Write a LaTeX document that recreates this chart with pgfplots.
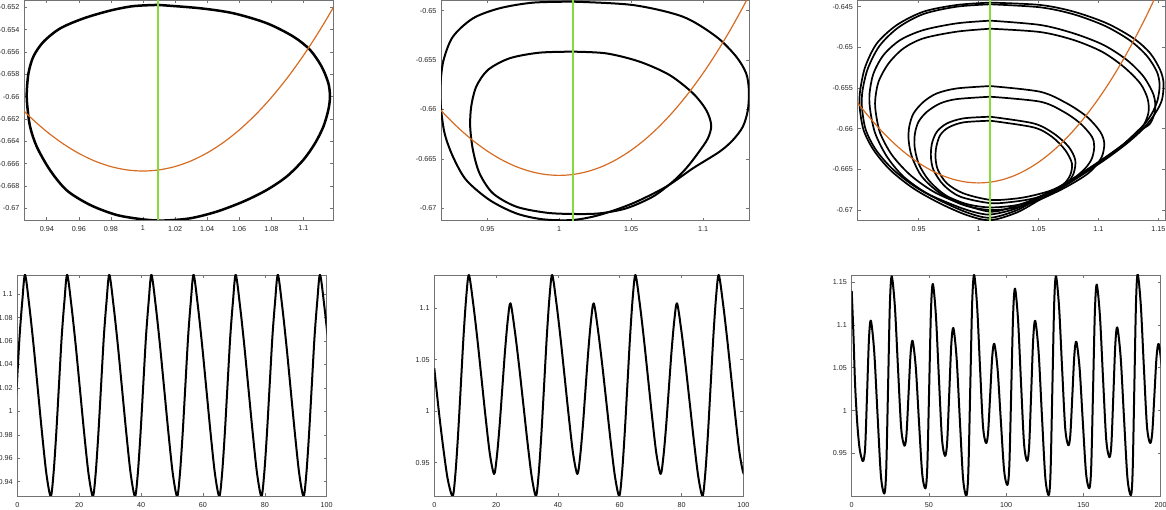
\documentclass[border=0pt]{standalone}
\usepackage{fontspec}
\setmainfont{Liberation Sans}
\usepackage{pgfplots}
\pgfplotsset{compat=1.18}
\definecolor{nullorange}{RGB}{214,108,36}
\definecolor{nullgreen}{RGB}{135,218,60}
\pgfplotsset{
  panel/.style={
    scale only axis, anchor=south west,
    axis line style={draw=black!55, line width=0.9pt},
    tick align=inside, major tick length=3pt,
    tick style={draw=black!55, line width=0.6pt},
    scaled ticks=false,
    tick label style={font=\fontsize{7.2}{8}\selectfont, text=black!85},
    xticklabel style={yshift=-2.5pt},
    yticklabel style={xshift=-1.2pt},
    /pgf/number format/assume math mode=true,
    /pgf/number format/fixed,
    /pgf/number format/precision=3,
  },
  orbit/.style={black, line width=#1, smooth, line join=round},
  nullx/.style={nullorange, line width=1.2pt, smooth},
  nully/.style={nullgreen, line width=1.5pt},
}
\newcommand{\cubicnull}{(0.89,-0.655010) (0.90,-0.657000) (0.91,-0.658810) (0.92,-0.660437) (0.93,-0.661881) (0.94,-0.663139) (0.95,-0.664208) (0.96,-0.665088) (0.97,-0.665776) (0.98,-0.666269) (0.99,-0.666567) (1.00,-0.666667) (1.01,-0.666566) (1.02,-0.666264) (1.03,-0.665758) (1.04,-0.665045) (1.05,-0.664125) (1.06,-0.662995) (1.07,-0.661652) (1.08,-0.660096) (1.09,-0.658324) (1.10,-0.656333) (1.11,-0.654123) (1.12,-0.651691) (1.13,-0.649034) (1.14,-0.646152) (1.15,-0.643042) (1.16,-0.639701) (1.17,-0.636129)}
\begin{document}
\begin{tikzpicture}
\useasboundingbox (0,0) rectangle (1166pt,510pt);

% ---- top row: phase planes ----
\begin{axis}[panel, at={(24pt,290pt)}, width=309pt, height=220pt,
  xmin=0.9258, xmax=1.1185, ymin=-0.67105, ymax=-0.65135,
  xtick={0.94,0.96,0.98,1,1.02,1.04,1.06,1.08,1.1},
  ytick={-0.67,-0.668,-0.666,-0.664,-0.662,-0.66,-0.658,-0.656,-0.654,-0.652}]
\addplot[orbit=2.5pt] coordinates {(1.0094,-0.65179) (1.0356,-0.65209) (1.0564,-0.65254) (1.0772,-0.65343) (1.0938,-0.65463) (1.1042,-0.65582) (1.1114,-0.65731) (1.1156,-0.6588) (1.1166,-0.6600) (1.1156,-0.66119) (1.1125,-0.66269) (1.1073,-0.66418) (1.1000,-0.66567) (1.0896,-0.66716) (1.0772,-0.66836) (1.0626,-0.6694) (1.0460,-0.6703) (1.0294,-0.6709) (1.0127,-0.6711) (1.0003,-0.6710) (0.9836,-0.6706) (0.9670,-0.6697) (0.9525,-0.6684) (0.9421,-0.6666) (0.9338,-0.6645) (0.9296,-0.6627) (0.9279,-0.6609) (0.9275,-0.6597) (0.9286,-0.6579) (0.9317,-0.6564) (0.9379,-0.6551) (0.9483,-0.6539) (0.9629,-0.6530) (0.9795,-0.6523) (0.9940,-0.6519) (1.0094,-0.65179)};
\addplot[nullx] coordinates {\cubicnull};
\addplot[nully] coordinates {(1.0095,-0.70) (1.0095,-0.60)};
\end{axis}

\begin{axis}[panel, at={(441pt,289.3pt)}, width=308.3pt, height=220.7pt,
  xmin=0.9178, xmax=1.1322, ymin=-0.67125, ymax=-0.64892,
  xtick={0.95,1,1.05,1.1}, ytick={-0.67,-0.665,-0.66,-0.655,-0.65}]
\addplot[orbit=2pt] coordinates {(1.0095,-0.64909) (1.0512,-0.64943) (1.0860,-0.65061) (1.1092,-0.65263) (1.1231,-0.65465) (1.1300,-0.65634) (1.1319,-0.65803) (1.1312,-0.66005) (1.1277,-0.66174) (1.1208,-0.66309) (1.1115,-0.66427) (1.0930,-0.66595) (1.0744,-0.66781) (1.0512,-0.66949) (1.0280,-0.67067) (1.0095,-0.67118) (0.9886,-0.67111) (0.9701,-0.67051) (0.9516,-0.66916) (0.9353,-0.66713) (0.9261,-0.66477) (0.9203,-0.66241) (0.9177,-0.65971) (0.9175,-0.65735) (0.9196,-0.65499) (0.9261,-0.65263) (0.9400,-0.65078) (0.9585,-0.64976) (0.9817,-0.64919) (1.0095,-0.64909)};
\addplot[orbit=2pt] coordinates {(1.0095,-0.65415) (1.0327,-0.65432) (1.0559,-0.65516) (1.0767,-0.65651) (1.0930,-0.65836) (1.1022,-0.66005) (1.1057,-0.66157) (1.1034,-0.66292) (1.0964,-0.66444) (1.0883,-0.66595) (1.0790,-0.6673) (1.0651,-0.66882) (1.0466,-0.67) (1.0280,-0.67051) (1.0095,-0.67057) (0.9910,-0.67044) (0.9701,-0.66983) (0.9539,-0.66848) (0.9446,-0.66646) (0.9400,-0.6641) (0.9381,-0.66174) (0.9388,-0.65971) (0.9423,-0.65769) (0.9504,-0.656) (0.9655,-0.65482) (0.9863,-0.65425) (1.0095,-0.65415)};
\addplot[nullx] coordinates {\cubicnull};
\addplot[nully] coordinates {(1.0095,-0.70) (1.0095,-0.60)};
\end{axis}

\begin{axis}[panel, at={(857.7pt,289.3pt)}, width=307.3pt, height=220.7pt,
  xmin=0.8991, xmax=1.1556, ymin=-0.67131, ymax=-0.64418,
  xtick={0.95,1,1.05,1.1,1.15}, ytick={-0.67,-0.665,-0.66,-0.655,-0.65,-0.645}]
\addplot[orbit=1.7pt] coordinates {(1.0097,-0.64450) (1.0514,-0.64479) (1.0793,-0.64561) (1.1071,-0.64705) (1.1294,-0.64890) (1.1433,-0.65074) (1.1516,-0.65279) (1.1544,-0.65443) (1.1530,-0.65648) (1.1474,-0.65812) (1.1377,-0.65996) (1.1238,-0.66181) (1.1071,-0.66365) (1.0904,-0.66529) (1.0709,-0.66713) (1.0514,-0.66870) (1.0320,-0.67030) (1.0097,-0.67125) (0.9903,-0.67063) (0.9680,-0.66920) (0.9457,-0.66735) (0.9263,-0.66509) (0.9124,-0.66263) (0.9040,-0.66017) (0.9007,-0.65730) (0.9012,-0.65525) (0.9054,-0.65238) (0.9151,-0.64951) (0.9318,-0.64725) (0.9541,-0.64561) (0.9819,-0.64479) (1.0097,-0.64450)};
\addplot[orbit=1.7pt] coordinates {(1.0097,-0.64471) (1.0514,-0.64508) (1.0793,-0.64594) (1.1057,-0.64738) (1.1266,-0.64918) (1.1405,-0.65106) (1.1488,-0.65299) (1.1511,-0.65463) (1.1494,-0.65648) (1.1447,-0.65812) (1.1363,-0.65984) (1.1224,-0.66173) (1.1057,-0.66353) (1.0890,-0.66517) (1.0695,-0.66701) (1.0500,-0.66856) (1.0315,-0.67005) (1.0097,-0.67095) (0.9911,-0.67034) (0.9694,-0.66894) (0.9471,-0.66714) (0.9279,-0.66492) (0.9140,-0.66254) (0.9057,-0.66008) (0.9026,-0.65730) (0.9032,-0.65525) (0.9076,-0.65259) (0.9174,-0.64980) (0.9332,-0.64754) (0.9541,-0.64590) (0.9819,-0.64500) (1.0097,-0.64471)};
\addplot[orbit=1.7pt] coordinates {(1.0097,-0.64672) (1.0514,-0.64725) (1.0793,-0.64828) (1.1043,-0.64971) (1.1238,-0.65156) (1.1377,-0.65360) (1.1461,-0.65586) (1.1474,-0.65771) (1.1433,-0.65934) (1.1349,-0.66024) (1.1210,-0.66197) (1.1043,-0.66373) (1.0876,-0.66537) (1.0681,-0.66713) (1.0487,-0.66853) (1.0306,-0.66985) (1.0097,-0.67055) (0.9950,-0.67020) (0.9791,-0.66939) (0.9569,-0.66795) (0.9374,-0.66590) (0.9235,-0.66344) (0.9137,-0.66057) (0.9095,-0.65770) (0.9090,-0.65566) (0.9123,-0.65320) (0.9207,-0.65094) (0.9346,-0.64910) (0.9541,-0.64787) (0.9819,-0.64705) (1.0097,-0.64672)};
\addplot[orbit=1.7pt] coordinates {(1.0097,-0.64771) (1.0514,-0.64812) (1.0793,-0.64910) (1.1029,-0.65053) (1.1210,-0.65238) (1.1349,-0.65443) (1.1410,-0.65627) (1.1419,-0.65791) (1.1383,-0.65943) (1.1321,-0.66037) (1.1196,-0.66209) (1.1029,-0.66386) (1.0862,-0.66550) (1.0668,-0.66722) (1.0473,-0.66861) (1.0292,-0.66960) (1.0097,-0.67020) (0.9847,-0.66918) (0.9625,-0.66775) (0.9430,-0.66570) (0.9277,-0.66324) (0.9179,-0.66057) (0.9143,-0.65812) (0.9137,-0.65648) (0.9165,-0.65422) (0.9249,-0.65197) (0.9374,-0.65012) (0.9541,-0.64889) (0.9819,-0.64807) (1.0097,-0.64771)};
\addplot[orbit=1.7pt] coordinates {(1.0097,-0.65476) (1.0514,-0.65546) (1.0737,-0.65689) (1.0904,-0.65853) (1.1015,-0.66037) (1.1049,-0.66180) (1.1029,-0.66344) (1.0959,-0.66488) (1.0876,-0.66590) (1.0709,-0.66734) (1.0514,-0.66869) (1.0320,-0.66967) (1.0097,-0.67000) (0.9875,-0.66939) (0.9680,-0.66795) (0.9527,-0.66590) (0.9443,-0.66344) (0.9416,-0.66140) (0.9421,-0.65976) (0.9457,-0.65812) (0.9541,-0.65669) (0.9652,-0.65566) (0.9819,-0.65505) (1.0097,-0.65476)};
\addplot[orbit=1.7pt] coordinates {(1.0097,-0.65607) (1.0514,-0.65668) (1.0709,-0.65791) (1.0849,-0.65935) (1.0946,-0.66099) (1.0965,-0.66222) (1.0946,-0.66365) (1.0890,-0.66488) (1.0793,-0.66611) (1.0654,-0.66734) (1.0487,-0.66857) (1.0320,-0.66939) (1.0097,-0.66968) (0.9903,-0.66927) (0.9722,-0.66816) (0.9583,-0.66632) (0.9499,-0.66427) (0.9466,-0.66222) (0.9469,-0.66058) (0.9499,-0.65914) (0.9569,-0.65792) (0.9680,-0.65689) (0.9819,-0.65636) (1.0097,-0.65607)};
\addplot[orbit=1.7pt] coordinates {(1.0097,-0.65853) (1.0459,-0.65935) (1.0626,-0.66058) (1.0751,-0.66222) (1.0807,-0.66386) (1.0793,-0.66550) (1.0737,-0.66673) (1.0626,-0.66775) (1.0459,-0.66857) (1.0292,-0.66898) (1.0097,-0.66915) (0.9847,-0.66836) (0.9708,-0.66693) (0.9624,-0.66509) (0.9602,-0.66345) (0.9611,-0.66180) (0.9652,-0.66037) (0.9736,-0.65935) (0.9875,-0.65873) (1.0097,-0.65853)};
\addplot[orbit=1.7pt] coordinates {(1.0097,-0.65902) (1.0459,-0.65984) (1.0612,-0.66099) (1.0723,-0.66263) (1.0779,-0.66427) (1.0765,-0.66570) (1.0709,-0.66681) (1.0598,-0.66763) (1.0431,-0.66829) (1.0292,-0.66862) (1.0097,-0.66875) (0.9875,-0.66796) (0.9736,-0.66673) (0.9661,-0.66509) (0.9641,-0.66365) (0.9647,-0.66222) (0.9680,-0.66078) (0.9750,-0.65984) (0.9875,-0.65922) (1.0097,-0.65902)};
\addplot[nullx] coordinates {\cubicnull};
\addplot[nully] coordinates {(1.0097,-0.70) (1.0097,-0.60)};
\end{axis}

% ---- bottom row: time series ----
\begin{axis}[panel, at={(17.3pt,14pt)}, width=309.4pt, height=221pt,
  xmin=0, xmax=100, ymin=0.9278, ymax=1.1164,
  xtick={0,20,40,60,80,100}, ytick={0.94,0.96,0.98,1,1.02,1.04,1.06,1.08,1.1}]
\addplot[orbit=2pt] coordinates {(-2.82,0.9275) (-1.93,0.9464) (-1.05,0.9805) (-0.16,1.0221) (0.73,1.0637) (1.61,1.0940)
(2.50,1.1166) (3.88,1.0901) (5.27,1.0561) (6.65,1.0183) (8.03,0.9805) (9.42,0.9464) (10.80,0.9275) (11.69,0.9464) (12.57,0.9805) (13.46,1.0221) (14.35,1.0637) (15.23,1.0940)
(16.12,1.1166) (17.50,1.0901) (18.89,1.0561) (20.27,1.0183) (21.65,0.9805) (23.04,0.9464) (24.42,0.9275) (25.31,0.9464) (26.19,0.9805) (27.08,1.0221) (27.97,1.0637) (28.85,1.0940)
(29.74,1.1166) (31.12,1.0901) (32.51,1.0561) (33.89,1.0183) (35.27,0.9805) (36.66,0.9464) (38.04,0.9275) (38.93,0.9464) (39.81,0.9805) (40.70,1.0221) (41.59,1.0637) (42.47,1.0940)
(43.36,1.1166) (44.74,1.0901) (46.13,1.0561) (47.51,1.0183) (48.89,0.9805) (50.28,0.9464) (51.66,0.9275) (52.55,0.9464) (53.43,0.9805) (54.32,1.0221) (55.21,1.0637) (56.09,1.0940)
(56.98,1.1166) (58.36,1.0901) (59.75,1.0561) (61.13,1.0183) (62.51,0.9805) (63.90,0.9464) (65.28,0.9275) (66.17,0.9464) (67.05,0.9805) (67.94,1.0221) (68.83,1.0637) (69.71,1.0940)
(70.60,1.1166) (71.98,1.0901) (73.37,1.0561) (74.75,1.0183) (76.13,0.9805) (77.52,0.9464) (78.90,0.9275) (79.79,0.9464) (80.67,0.9805) (81.56,1.0221) (82.45,1.0637) (83.33,1.0940)
(84.22,1.1166) (85.60,1.0901) (86.99,1.0561) (88.37,1.0183) (89.75,0.9805) (91.14,0.9464) (92.52,0.9275) (93.41,0.9464) (94.29,0.9805) (95.18,1.0221) (96.07,1.0637) (96.95,1.0940)
(97.84,1.1166) (99.22,1.0901) (100.61,1.0561) (101.99,1.0183)};
\end{axis}

\begin{axis}[panel, at={(434.3pt,14pt)}, width=309pt, height=221pt,
  xmin=0, xmax=100, ymin=0.9176, ymax=1.1324,
  xtick={0,20,40,60,80,100}, ytick={0.95,1,1.05,1.1}]
\addplot[orbit=2pt] coordinates {(0,1.0417) (1.5,0.999) (3.0,0.962) (4.4,0.933) (5.95,0.9176)
(6.83,0.9391) (7.70,0.9777) (8.58,1.0250) (9.45,1.0723) (10.33,1.1109) (11.20,1.1324) (12.56,1.1053) (13.92,1.0705) (15.28,1.0318) (16.63,0.9932) (17.99,0.9583) (19.35,0.9390) (20.23,0.9556) (21.12,0.9855) (22.00,1.0220) (22.88,1.0584) (23.77,1.0883) (24.65,1.1049) (26.03,1.0787) (27.40,1.0450) (28.78,1.0075) (30.15,0.9700) (31.53,0.9363) (32.90,0.9176)
(33.78,0.9391) (34.65,0.9777) (35.53,1.0250) (36.40,1.0723) (37.28,1.1109) (38.15,1.1324) (39.51,1.1053) (40.87,1.0705) (42.23,1.0318) (43.58,0.9932) (44.94,0.9583) (46.30,0.9390) (47.18,0.9556) (48.07,0.9855) (48.95,1.0220) (49.83,1.0584) (50.72,1.0883) (51.60,1.1049) (52.98,1.0787) (54.35,1.0450) (55.73,1.0075) (57.10,0.9700) (58.48,0.9363) (59.85,0.9176)
(60.73,0.9391) (61.60,0.9777) (62.48,1.0250) (63.35,1.0723) (64.23,1.1109) (65.10,1.1324) (66.46,1.1053) (67.82,1.0705) (69.18,1.0318) (70.53,0.9932) (71.89,0.9583) (73.25,0.9390) (74.13,0.9556) (75.02,0.9855) (75.90,1.0220) (76.78,1.0584) (77.67,1.0883) (78.55,1.1049) (79.93,1.0787) (81.30,1.0450) (82.68,1.0075) (84.05,0.9700) (85.43,0.9363) (86.80,0.9176)
(87.68,0.9391) (88.55,0.9777) (89.43,1.0250) (90.30,1.0723) (91.18,1.1109) (92.05,1.1324) (93.41,1.1053) (94.77,1.0705) (96.13,1.0318) (97.48,0.9932) (98.84,0.9583) (100.20,0.9390) (101.08,0.9556)};
\end{axis}

\begin{axis}[panel, at={(851.7pt,14pt)}, width=309pt, height=221pt,
  xmin=0, xmax=200, ymin=0.9001, ymax=1.1585,
  xtick={0,50,100,150,200}, ytick={0.95,1,1.05,1.1,1.15}]
\addplot[orbit=2pt] coordinates {(0,1.140) (1.1,1.090) (2.2,1.030) (3.6,0.985) (5.0,0.957) (6.4,0.9445) (7.5,0.9410)
(8.725,0.9574) (9.95,1.0198) (11.175,1.0839) (12.4,1.1052) (14.575,1.0688) (16.75,0.9940) (18.925,0.9232) (21.1,0.9030)
(22.3,0.9284) (23.5,1.0249) (24.7,1.1240) (25.9,1.1570) (27.95,1.1214) (30.0,1.0481) (32.05,0.9788) (34.1,0.9590)
(35.425,0.9713) (36.75,1.0178) (38.075,1.0656) (39.4,1.0815) (41.475,1.0505) (43.55,0.9866) (45.625,0.9263) (47.7,0.9090)
(48.9,0.9329) (50.1,1.0237) (51.3,1.1169) (52.5,1.1480) (54.475,1.1118) (56.45,1.0375) (58.425,0.9671) (60.4,0.9470)
(61.75,0.9620) (63.1,1.0188) (64.45,1.0771) (65.8,1.0965) (67.9,1.0612) (70.0,0.9887) (72.1,0.9201) (74.2,0.9005)
(75.45,0.9263) (76.7,1.0244) (77.95,1.1250) (79.2,1.1586) (81.125,1.1232) (83.05,1.0505) (84.975,0.9817) (86.9,0.9620)
(88.25,0.9736) (89.6,1.0177) (90.95,1.0629) (92.3,1.0780) (94.425,1.0483) (96.55,0.9873) (98.675,0.9295) (100.8,0.9130)
(102.025,0.9360) (103.25,1.0232) (104.475,1.1127) (105.7,1.1425) (107.65,1.1063) (109.6,1.0318) (111.55,0.9613) (113.5,0.9412)
(114.825,0.9576) (116.15,1.0198) (117.475,1.0837) (118.8,1.1050) (120.975,1.0683) (123.15,0.9928) (125.325,0.9214) (127.5,0.9010)
(128.675,0.9266) (129.85,1.0239) (131.025,1.1237) (132.2,1.1570) (134.2,1.1214) (136.2,1.0483) (138.2,0.9792) (140.2,0.9594)
(141.5,0.9715) (142.8,1.0175) (144.1,1.0648) (145.4,1.0805) (147.5,1.0497) (149.6,0.9863) (151.7,0.9263) (153.8,0.9092)
(155.0,0.9330) (156.2,1.0234) (157.4,1.1163) (158.6,1.1472) (160.65,1.1109) (162.7,1.0363) (164.75,0.9657) (166.8,0.9455)
(168.075,0.9607) (169.35,1.0183) (170.625,1.0775) (171.9,1.0972) (174.1,1.0619) (176.3,0.9893) (178.5,0.9206) (180.7,0.9010)
(181.8,0.9268) (182.9,1.0249) (184.0,1.1256) (185.1,1.1592) (187.1,1.1237) (189.1,1.0507) (191.1,0.9817) (193.1,0.9620)
(194.5,0.9736) (195.9,1.0176) (197.3,1.0627) (198.7,1.0778) (200.8,1.0476) (203.0,0.9850)};
\end{axis}
\end{tikzpicture}
\end{document}
